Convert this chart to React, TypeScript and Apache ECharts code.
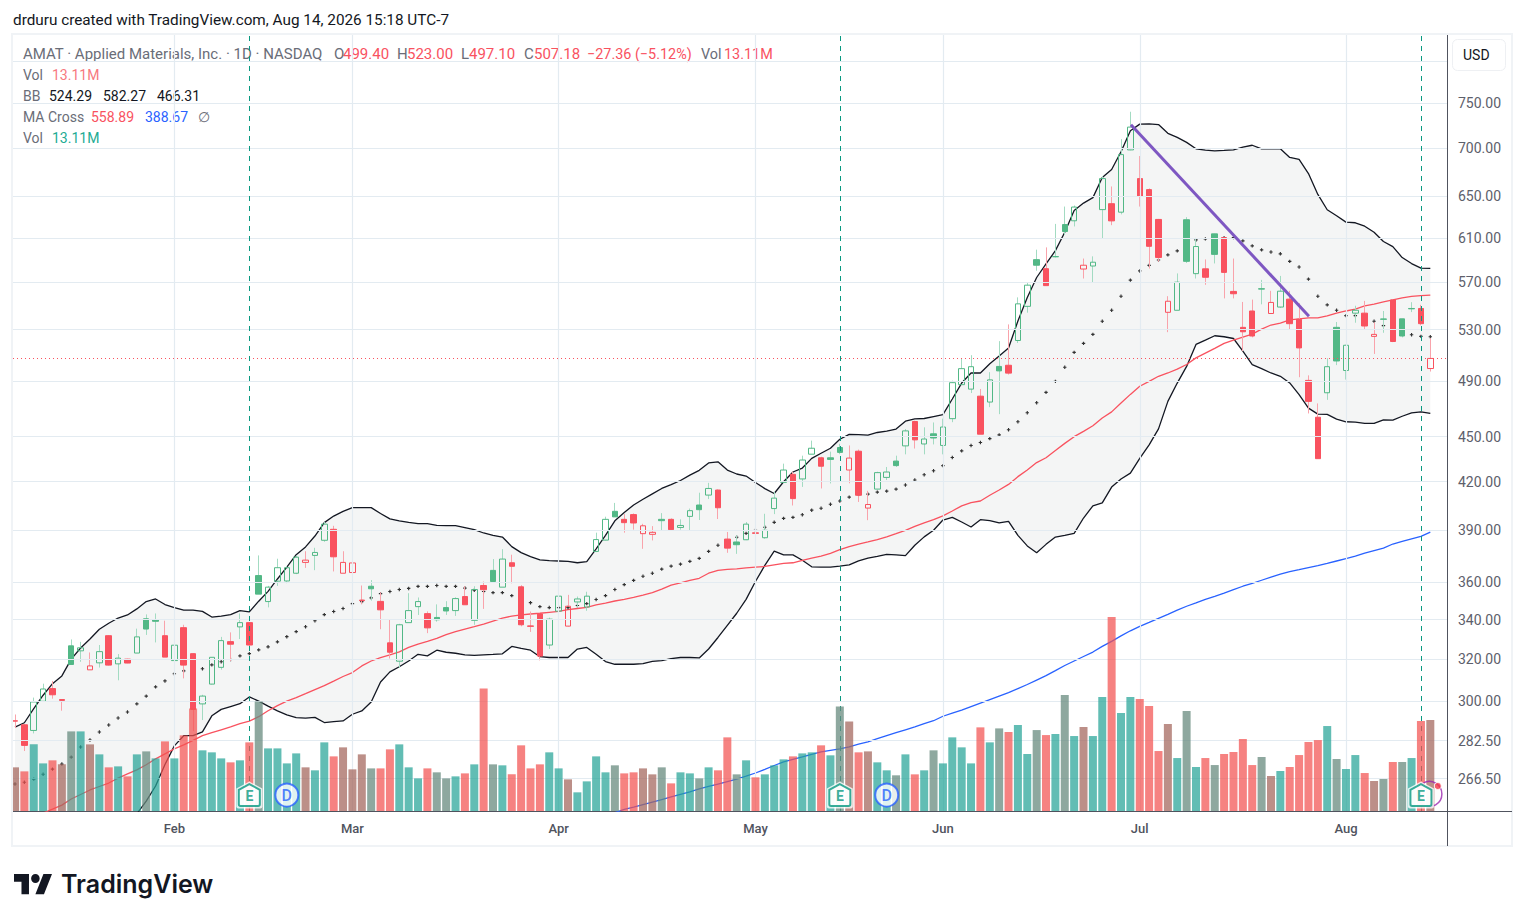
import React, { useEffect, useRef } from "react";
import * as echarts from "echarts";

const opens = [
  291, 289.4, 286.9, 300, 305.9, 300.8, 326.6, 324.1, 314.8, 318.2,
  331.7, 317.7, 320, 323, 340.4, 339.8, 331.7, 319.3, 335.8, 322.7,
  298.8, 308, 316, 328.7, 336.2, 338.4, 363.7, 349.5, 360.6, 360.7,
  365, 371.1, 375.1, 383.9, 390.4, 365, 365.4, 350.3, 357.8, 349.6,
  328.1, 319, 338.4, 346.8, 343.1, 341.1, 346.3, 344.7, 352.2, 339.6,
  358.2, 366.6, 357.3, 370.9, 357.5, 336.7, 342.9, 327, 344.4, 336.6,
  349.3, 346.6, 377.4, 384, 401.3, 396.4, 399.3, 387.8, 387.4, 396.4,
  396.4, 391.5, 398.2, 405.2, 411.4, 414.6, 384.6, 382.9, 384.2, 388.3,
  385.4, 403, 419.5, 424.7, 421.7, 438, 435.6, 435.6, 442.5, 427.5,
  440, 403.3, 415.2, 422.7, 433.4, 443.6, 460.5, 444.9, 451.9, 443.9,
  462.5, 487.2, 483.9, 478.7, 474.4, 501, 501.9, 521.3, 549.3, 590,
  581.9, 592.8, 622.6, 626.2, 581.6, 584.3, 637, 642.8, 634.5, 698,
  668, 656.8, 627.5, 544.3, 546, 627.2, 577.5, 581.8, 613.8, 610.3,
  562, 531.9, 545.4, 564.3, 543.3, 548.7, 555.4, 538.5, 490.4, 463.5,
  481.2, 531.9, 497.9, 543.6, 543.6, 524.6, 538.8, 554.7, 538.9, 547.5,
  547.5, 499.4,
];
const highs = [
  294, 289.6, 301.7, 308.2, 309.5, 300.9, 329.8, 328.6, 323.3, 327,
  332, 322.5, 320.2, 335.3, 342.7, 343.2, 339.4, 329.1, 337.3, 322.9,
  303, 321, 331.1, 333.4, 343.2, 338.5, 375.1, 358, 373.2, 369,
  375, 377.5, 379.5, 394.8, 392.5, 377.5, 371.5, 358.2, 361.2, 354.5,
  340.2, 337.8, 354, 351.7, 344.3, 348, 349.7, 351.8, 357.8, 357.8,
  360.4, 373, 378.7, 375.5, 358.4, 344.2, 343, 341, 357.8, 353.1,
  352.2, 354.8, 388.4, 398, 406.5, 399.6, 400, 393.7, 392.3, 400.2,
  397, 396.4, 403, 412.9, 419.2, 415, 388.8, 386.8, 394.8, 397.5,
  399.8, 413.5, 431.7, 426.4, 437, 447.2, 436.3, 439.7, 445, 443.9,
  441.1, 414.1, 426.4, 429.5, 437, 455.2, 461, 456.4, 459.8, 462.5,
  490.2, 507, 509.7, 484, 496.6, 520.8, 534.3, 556.9, 569.8, 599.1,
  601.2, 623.2, 640, 641, 591, 593, 670.6, 660, 709.6, 740,
  691.5, 658, 628, 557.9, 577.7, 629.7, 610, 590.2, 614, 611,
  591, 553, 555, 572, 562.5, 575.5, 562.5, 552, 494.2, 473.4,
  507.4, 536.3, 518, 549.8, 553.9, 536, 545.4, 555.5, 539, 552.8,
  550.6, 523,
];
const lows = [
  288, 278, 285.6, 299.9, 301.2, 295.7, 317.4, 318.7, 314.8, 315.9,
  316.9, 309.8, 318, 323, 332.1, 328.3, 321, 319, 310.7, 286.6,
  291.5, 307.8, 314.9, 319.1, 330, 325, 353.5, 346.4, 358, 359.5,
  364.5, 368, 366.7, 383, 366, 365, 362.4, 348, 350, 335,
  320.3, 315.7, 338.4, 342.4, 333, 338.9, 342.4, 341.9, 347.8, 337.3,
  345.6, 360.4, 357.3, 359.4, 336.5, 333.6, 319.4, 325, 340.2, 336.4,
  346.4, 344.6, 377, 383.8, 397.9, 388.4, 390.2, 378.9, 383.8, 389.5,
  389.5, 390.2, 390, 396, 408.9, 396.6, 376.6, 376, 384, 381.9,
  384.8, 399.6, 419, 404.9, 416.6, 438, 415.6, 418.8, 438, 418.9,
  407.1, 395.9, 415, 421, 429.5, 437.9, 441.8, 437.9, 444.6, 437.9,
  460, 487, 481, 451.6, 470.7, 465.7, 494.8, 519.3, 544, 580.1,
  567, 592, 612.8, 620.8, 573.2, 569.8, 609.6, 622, 632.4, 697.6,
  640, 582, 588.2, 528, 546, 587, 573.2, 567.7, 586.6, 556,
  556, 512.9, 523.8, 551, 543, 548, 530, 492.8, 466.2, 435,
  476, 502, 491, 535.7, 530, 510.7, 527.5, 520, 523.8, 544.5,
  533.6, 497.1,
];
const closes = [
  291.2, 280.4, 299.7, 305.7, 303, 300.4, 317.4, 325.6, 316.7, 323.7,
  317.1, 320.5, 318.1, 331.1, 335.1, 339.1, 321, 326.9, 317.1, 296.3,
  302.4, 320.9, 329.2, 327.4, 338.4, 327, 353.5, 357.3, 368.1, 368.1,
  374.1, 372.4, 376.8, 393.5, 374.3, 371.1, 370.8, 350, 356.4, 345.1,
  323.4, 337.3, 344.7, 349.5, 335.7, 339.9, 344.5, 351.1, 347.8, 356,
  355.9, 360.4, 373, 368.9, 337.3, 336.5, 321.5, 340.2, 352.4, 347,
  350.9, 352.4, 384.3, 396.4, 397.9, 394.4, 394.2, 392.5, 388.6, 395.6,
  390.2, 392.7, 401.7, 402.3, 415.6, 403.5, 379.3, 381.3, 393.5, 388,
  389.8, 409.5, 427.5, 409.2, 434.1, 442, 430, 434.5, 439.2, 435.4,
  411.3, 405.5, 425.8, 426.2, 430.4, 453.9, 447.7, 448.3, 449, 456.6,
  488.7, 499.3, 500.8, 451.6, 490.8, 497.6, 495.9, 551.4, 567.4, 585,
  567, 592.6, 616, 639.5, 585, 587.7, 668, 626.1, 693, 722.8,
  650.3, 602.2, 592, 553.6, 570, 588.5, 602, 574.3, 594.8, 578.6,
  560, 528.3, 524.9, 564, 552.6, 562.2, 534.9, 515.4, 474.9, 435,
  500.8, 505.2, 517.5, 546, 533, 526.2, 538.5, 520.5, 524.9, 547.2,
  534.9, 507.18,
];
const bbUpper = [
  288.4, 290.3, 296.6, 302.8, 308.2, 311.9, 320, 325.5, 330, 335,
  338.1, 340.8, 342.4, 345.6, 349.5, 350.9, 347.9, 346.3, 345, 345,
  344.3, 341.3, 341.8, 342.6, 344.7, 344, 349.7, 355, 361.8, 368.4,
  375.5, 380, 386.4, 394.4, 398.4, 401.3, 403.6, 403.6, 403.6, 400,
  396.7, 395.5, 394.6, 393.8, 393.8, 392.8, 392.6, 392.6, 391.4, 390.2,
  388.2, 386.8, 385.8, 380.2, 376.7, 374.4, 372.5, 372.1, 371.9, 371.7,
  370.9, 371.5, 378.9, 386.8, 395.5, 400.6, 405.2, 408.8, 412.2, 415.6,
  418, 420.7, 424.2, 427.3, 432.2, 432.9, 427.5, 424.9, 423.6, 419.4,
  415.5, 412.4, 419.9, 426.2, 428.8, 435.2, 438.6, 442, 448.1, 451.5,
  451.3, 451, 452.8, 453.7, 455.2, 460.7, 462.4, 462.6, 464, 465.4,
  476.6, 488.4, 496, 496, 503, 509.1, 515.3, 537.1, 556.7, 574.1,
  586.1, 598.2, 615.3, 636.2, 643.4, 648.8, 669.1, 677.3, 696, 718.8,
  726.1, 726.4, 725.6, 716, 711.6, 706.1, 699.2, 697.8, 697, 697.5,
  698.1, 701, 703, 699.2, 699.2, 699.2, 690, 687.9, 673.2, 652,
  636.9, 631, 624.9, 624.3, 621, 615.3, 606.6, 601.9, 591.9, 586.5,
  582.4, 582.27,
];
const bbLower = [
  236, 236, 237, 238, 238, 239, 240, 241, 242, 244,
  246, 248, 250, 252.5, 257.5, 263.5, 272.3, 280.2, 284.6, 284.6,
  286.3, 293.4, 296.3, 297.6, 298.9, 302, 300.1, 297.8, 295.6, 293.8,
  292.6, 292.4, 292.7, 290.4, 290.8, 291.1, 294.1, 295.6, 299.7, 309,
  313.8, 316.3, 319.1, 322.4, 321.6, 324.4, 323.4, 322.9, 322.1, 321.9,
  322.1, 322.3, 322.6, 326.3, 325.3, 324.4, 321.2, 320.8, 320.8, 320.8,
  325, 325.8, 322.4, 318.8, 317.5, 317.5, 317.5, 317.8, 318.9, 319.3,
  320.3, 320.8, 320.8, 320.6, 325, 330.8, 337, 343.3, 350.7, 360.4,
  369.4, 377.6, 375.4, 375.4, 372.3, 368.6, 368.4, 368.4, 369, 369.7,
  372, 373.6, 374.6, 375.7, 375.4, 375, 381, 385.9, 389.8, 396,
  397.6, 394.8, 391.8, 396.2, 395.6, 394.2, 395.2, 386.8, 380.6, 376.6,
  381.5, 385.8, 386.8, 388, 397.2, 404.7, 406.5, 416.5, 421.7, 425.5,
  435.2, 444.3, 455.3, 474.9, 488.4, 501, 518.2, 521.6, 525.1, 524.3,
  522.9, 512.9, 502.4, 499.3, 496, 493.5, 488.5, 479.8, 470, 465.7,
  465.5, 462.2, 460.3, 460, 459.1, 459.1, 461.7, 461.4, 464.2, 466.6,
  467.3, 466.31,
];
const bbBasis = [
  264.3, 265, 266.3, 268.3, 270.4, 272.5, 275.4, 279.7, 282.7, 286.2,
  289.3, 292.4, 295.1, 298.8, 302.4, 306.7, 309.5, 312.9, 314.3, 315.2,
  315.3, 317.2, 318.7, 319.8, 321.6, 322.7, 324.6, 326.1, 328.6, 331.2,
  333.8, 336.3, 339.4, 342.6, 344.2, 345.8, 348.4, 349.5, 351.5, 353.8,
  354.9, 356, 356.6, 357.7, 357.7, 358.2, 357.7, 357.7, 356.8, 355.6,
  354.9, 354.3, 354.3, 352.7, 350.9, 348.9, 346.8, 346.3, 346.3, 346.3,
  347.4, 348.4, 350.6, 352.7, 356, 358.7, 361, 363.3, 365, 367.3,
  369, 370.1, 371.7, 373.4, 377.4, 381, 382.9, 385.7, 388, 389.8,
  391.6, 394.6, 397, 397.6, 399.2, 402, 403.2, 405.7, 407.7, 410.1,
  411.7, 412, 413.3, 413.9, 415.2, 417.8, 421, 424.4, 427, 430.4,
  435.8, 440.2, 443.9, 445.9, 448.6, 451.1, 454.7, 460.3, 466.7, 473.9,
  481.5, 489.7, 500.4, 511.9, 519, 526.2, 536.9, 546, 557.9, 571.8,
  579.9, 584.9, 589.7, 594.3, 598, 601.9, 608.1, 609.1, 609.8, 610.3,
  610.3, 607.2, 602.6, 598.9, 597, 595.3, 588.5, 583.4, 572.7, 557.9,
  550.5, 546, 541.5, 541.5, 539.3, 536.9, 533.3, 530, 527.5, 525.9,
  524.6, 524.29,
];
const ma50 = [
  247, 249, 251, 252.8, 254.3, 255.9, 258.3, 260.1, 261.9, 263.3,
  264.7, 266.7, 268.4, 270.1, 272.2, 274.7, 276.8, 278.9, 280.6, 282.6,
  284.6, 285.9, 287.2, 288.5, 289.9, 291, 293, 295.7, 298, 300.1,
  301.7, 303.5, 305.4, 307.3, 309.4, 311.6, 313.5, 316.7, 319.1, 320.8,
  322.1, 323.6, 325.8, 327.5, 328.8, 330.3, 332.2, 333.8, 335.1, 336.3,
  337.6, 339.2, 340.8, 341.8, 342.4, 342.9, 343.3, 343.8, 344.3, 345.2,
  345.8, 346.4, 347.7, 348.7, 349.8, 350.7, 351.8, 353, 354.3, 356.2,
  358.4, 359.6, 361, 362.2, 365, 366.6, 367.2, 367.5, 368, 368.4,
  368.8, 369.7, 370.5, 370.9, 372.3, 373.6, 374.7, 376.3, 378.4, 380.2,
  381.7, 382.9, 384.3, 385.9, 387.8, 389.8, 392.2, 394.2, 396.2, 398.5,
  401.5, 404.7, 406.7, 407.7, 411.3, 414.6, 418.2, 423.2, 427.5, 432.4,
  435.6, 440.5, 445.3, 449.9, 453.6, 457.5, 463, 467.3, 473.7, 480,
  486, 489.7, 493.5, 496, 499, 502.5, 507.6, 511.3, 515, 519,
  521.6, 524, 526.4, 530.5, 533.8, 535.4, 538, 538.9, 539.6, 539.6,
  541.3, 543.7, 545.4, 547, 549.6, 551.2, 553, 554.7, 556.4, 557.7,
  558.3, 558.89,
];
const ma200Start = 63;
const ma200 = [
  252, 253, 254.2, 255.1, 256.1, 257.1, 258.1, 259.1, 260.1, 261.1,
  262.3, 263.3, 264.3, 265.3, 266.3, 267.5, 268.8, 270.3, 271.9, 273.4,
  274.5, 275.5, 276.6, 277.6, 278.3, 278.9, 279.8, 280.9, 281.9, 283.3,
  284.6, 285.9, 287.2, 288.5, 289.9, 291.2, 293.2, 294.6, 296, 297.6,
  299.2, 300.8, 302.4, 304, 305.9, 307.8, 309.9, 312, 314.4, 316.9,
  319.1, 321.3, 323.5, 326.3, 328.8, 331.6, 334.2, 336.5, 338.5, 340.6,
  342.7, 344.9, 347, 348.8, 350.7, 352.3, 354, 355.9, 357.8, 359.4,
  361.1, 362.8, 364.5, 365.9, 367, 368.2, 369.3, 370.5, 371.9, 373.3,
  374.7, 376.4, 377.9, 379.3, 381.7, 383.2, 384.7, 386.2, 388.67,
];
const volumes = [
  6.29, 5.71, 9.6, 6.86, 7.3, 6.72, 11.47, 11.47, 9.6, 8.16,
  6.29, 6.43, 4.99, 8.16, 8.59, 7.58, 10.03, 7.58, 10.9, 14.78,
  8.74, 8.45, 7.58, 7.01, 7.3, 9.89, 15.79, 9.02, 9.02, 6.86,
  8.3, 6.29, 5.86, 9.89, 7.87, 9.17, 6, 8.16, 6.14, 6.14,
  8.88, 9.6, 6.29, 4.7, 6.14, 5.57, 4.7, 4.99, 5.42, 6.72,
  17.66, 6.72, 6.58, 5.28, 9.46, 6.14, 6.72, 8.45, 6.14, 4.56,
  2.69, 4.27, 7.87, 5.57, 6.58, 5.42, 5.57, 6.14, 5.28, 6.29,
  3.98, 5.57, 5.42, 4.7, 6.29, 5.86, 10.61, 5.28, 7.3, 4.85,
  5.28, 6.58, 7.44, 7.87, 8.3, 8.45, 9.46, 8.02, 15.07, 12.91,
  8.45, 8.59, 7.01, 5.86, 5.14, 8.16, 5.28, 5.86, 8.74, 6.86,
  10.61, 9.17, 6.86, 12.05, 9.89, 11.9, 11.38, 12.38, 8.21, 11.66,
  10.94, 11.09, 16.7, 10.8, 12.1, 10.8, 16.42, 27.94, 14.11, 16.42,
  16.13, 15.12, 8.64, 12.53, 7.63, 14.4, 6.34, 7.63, 6.62, 8.21,
  8.5, 10.37, 6.62, 7.78, 5.04, 5.76, 6.34, 8.06, 9.94, 10.22,
  12.24, 7.49, 6.05, 8.06, 5.47, 4.32, 4.61, 7.06, 7.06, 7.63,
  12.96, 13.11,
];
// T teal, S salmon, G grey-green, B grey-brown: two overlaid volume indicators
const volumeKinds = (
  "BSTTSBGTBT" + "STSTGTSTSS" + "TTTSTSGTTT" + "TBTTSBBBGS" + "STTTSGGTST" +
  "SG" + "TSSSSTTBTT" + "TTGSSBBGST" + "TGTSSGTSTT" + "TSTTSTGBSB" +
  "TTGTSTGTTT" + "TSTG" + "STTGSTGTBT" + "TSTTSSSBTG" + "TSGSSSSGBT" +
  "SSSSTGTTSB" + "GSGTSB"
).split("");
const monthTicks = [17, 36, 58, 79, 99, 120, 142];
const monthLabels = ["Feb", "Mar", "Apr", "May", "Jun", "Jul", "Aug"];
const priceTicks = [750, 700, 650, 610, 570, 530, 490, 450, 420, 390, 360, 340, 320, 300, 282.5, 266.5];
const extraGridPrices = [800];
const earningsBars = [25, 88, 150];
const dividendBars = [29, 93];
const trendline = [[119.06, 725.4], [138.05, 541.1]];
const lastPrice = 507.18;

const RED = "#f9525f";
const GREEN = "#52b886";
const RED_WICK = "#f9a3ab";
const GREEN_WICK = "#a3dbc2";
const VOLUME_COLORS: Record<string, string> = {
  T: "rgba(38,164,151,0.72)",
  S: "rgba(242,82,80,0.72)",
  G: "rgba(104,139,127,0.75)",
  B: "rgba(166,106,96,0.75)",
};
const VOLUME_TOP = 111.8;
const FONT = "Roboto, sans-serif";

const candleColor = (i: number) => {
  const prev = i > 0 ? closes[i - 1] : closes[i] + 1;
  return closes[i] >= prev ? GREEN : RED;
};

const LOGO_PATH =
  "M14 22H7V11H0V4h14v18zM28 22h-8l7.5-18h8L28 22zM24 8a4 4 0 1 1-8 0 4 4 0 0 1 8 0z";
const HOUSE =
  "path://M12 0L24 6.5V23Q24 25 22 25H2Q0 25 0 23V6.5Z";
const PLUS = "path://M1 0H2V1H3V2H2V3H1V2H0V1H1Z";

const legendRow = (
  y: number,
  parts: [number, string, string][],
  size = 14
) =>
  parts.map(([x, text, fill]) => ({
    type: "text",
    x,
    y,
    silent: true,
    style: {
      text,
      fill,
      font: `${size}px ${FONT}`,
      verticalAlign: "middle",
    },
  }));

export default function App() {
  const ref = useRef<HTMLDivElement>(null);

  useEffect(() => {
    if (!ref.current) return;
    echarts.graphic.registerShape(
      "tvLogo",
      echarts.graphic.extendPath(LOGO_PATH, {})
    );
    const chart = echarts.init(ref.current, undefined, { renderer: "svg" });
    const idx = closes.map((_, i) => i);
    const GREY = "#6a6d78";

    const lineSeries = (name: string, values: number[], color: string, width: number, start = 0) => ({
      name,
      type: "line",
      data: values.map((v, i) => [i + start, v]),
      symbol: "none",
      silent: true,
      clip: true,
      z: 3,
      lineStyle: { color, width },
    });

    const option: any = {
      animation: false,
      backgroundColor: "#ffffff",
      textStyle: { fontFamily: FONT },
      grid: { left: 13, top: 35, width: 1434, height: 776, containLabel: false },
      xAxis: {
        type: "value",
        min: -0.2134,
        max: 152.78,
        splitLine: { show: false },
        axisTick: { show: false },
        axisLine: { show: true, onZero: false, lineStyle: { color: "#50535e", width: 1 } },
        axisLabel: {
          customValues: monthTicks,
          formatter: (v: number) => monthLabels[monthTicks.indexOf(v)] ?? "",
          color: "#50535e",
          fontFamily: FONT,
          fontSize: 13,
          fontWeight: 500,
          margin: 11,
        },
      },
      yAxis: [
        {
          type: "log",
          logBase: 10,
          position: "right",
          min: 253.6,
          max: 832.3,
          splitLine: { show: false },
          minorSplitLine: { show: false },
          axisTick: { show: false },
          axisLine: { show: true, onZero: false, lineStyle: { color: "#50535e", width: 1 } },
          axisLabel: {
            customValues: priceTicks,
            formatter: (v: number) => Number(v).toFixed(2),
            color: "#5d606b",
            fontFamily: FONT,
            fontSize: 14,
            margin: 11,
          },
        },
        { type: "value", min: 0, max: VOLUME_TOP, show: false, splitLine: { show: false } },
      ],
      graphic: [
        {
          type: "rect",
          silent: true,
          z: 100,
          shape: { x: 0, y: 33, width: 12.5, height: 780 },
          style: { fill: "#ffffff" },
        },
        {
          type: "rect",
          silent: true,
          z: 101,
          shape: { x: 12, y: 34, width: 1500, height: 812 },
          style: { fill: "none", stroke: "#f0f3f6", lineWidth: 2 },
        },
        {
          type: "line",
          silent: true,
          z: 102,
          shape: { x1: 1447, y1: 811.5, x2: 1512, y2: 811.5 },
          style: { stroke: "#50535e", lineWidth: 1 },
        },
        {
          type: "line",
          silent: true,
          z: 102,
          shape: { x1: 1447.5, y1: 811, x2: 1447.5, y2: 846 },
          style: { stroke: "#50535e", lineWidth: 1 },
        },
        {
          type: "rect",
          silent: true,
          shape: { x: 1452.5, y: 39.5, width: 53, height: 31, r: 5 },
          style: { fill: "#ffffff", stroke: "#eef0f3", lineWidth: 1 },
        },
        ...legendRow(55, [[1463, "USD", "#131722"]], 14),
        ...legendRow(20, [[13, "drduru created with TradingView.com, Aug 14, 2026 15:18 UTC-7", "#131722"]], 15.3),
        ...legendRow(54, [
          [23, "AMAT · Applied Materials, Inc. · 1D · NASDAQ", GREY],
          [334, "O", GREY],
          [343, "499.40", RED],
          [397, "H", GREY],
          [407, "523.00", RED],
          [461, "L", GREY],
          [469, "497.10", RED],
          [524, "C", GREY],
          [534, "507.18", RED],
        ], 15),
        ...legendRow(54, [
          [587, "−27.36 (−5.12%)", RED],
          [701, "Vol", GREY],
          [724, "13.11M", RED],
        ], 14.4),
        ...legendRow(75, [[23, "Vol", GREY], [52, "13.11M", "#f7797f"]]),
        ...legendRow(96, [
          [23, "BB", GREY],
          [49, "524.29", "#131722"],
          [103, "582.27", "#131722"],
          [157, "466.31", "#131722"],
        ]),
        ...legendRow(117, [
          [23, "MA Cross", GREY],
          [91, "558.89", RED],
          [145, "388.67", "#2962ff"],
          [198, "∅", GREY],
        ]),
        ...legendRow(138, [[23, "Vol", GREY], [52, "13.11M", "#22ab94"]]),
        {
          type: "tvLogo",
          silent: true,
          x: 14,
          y: 869.5,
          scaleX: 1.07,
          scaleY: 1.12,
          style: { fill: "#131722" },
        },
        {
          type: "text",
          silent: true,
          x: 61,
          y: 884,
          style: {
            text: "TradingView",
            fill: "#131722",
            font: `600 25px Inter, ${FONT}`,
            verticalAlign: "middle",
          },
        },
      ],
      series: [
        {
          name: "Grid",
          type: "line",
          data: [[0, 500]],
          symbol: "none",
          silent: true,
          z: 1,
          lineStyle: { opacity: 0 },
          markLine: {
            silent: true,
            symbol: "none",
            animation: false,
            label: { show: false },
            lineStyle: { color: "#e3ebf1", width: 1.2, type: "solid" },
            data: [
              ...[...priceTicks, ...extraGridPrices].map((p) => ({ yAxis: p })),
              ...monthTicks.map((m) => ({ xAxis: m })),
            ],
          },
        },
        {
          name: "Last price",
          type: "line",
          data: [[0, lastPrice]],
          symbol: "none",
          silent: true,
          z: 2,
          lineStyle: { opacity: 0 },
          markLine: {
            silent: true,
            symbol: "none",
            animation: false,
            label: { show: false },
            lineStyle: { color: RED, width: 1, type: [1, 3], opacity: 1 },
            data: [{ yAxis: lastPrice }],
          },
        },
        {
          name: "BB band",
          type: "custom",
          clip: true,
          silent: true,
          z: 2,
          data: [[0, 500]],
          encode: { x: 0, y: 1 },
          renderItem: (_p: any, api: any) => ({
            type: "polygon",
            shape: {
              points: [
                ...idx.map((i) => api.coord([i, bbUpper[i]])),
                ...idx.slice().reverse().map((i) => api.coord([i, bbLower[i]])),
              ],
            },
            style: { fill: "rgba(100,115,115,0.07)" },
          }),
        },
        lineSeries("BB upper", bbUpper, "#131722", 1.3),
        lineSeries("BB lower", bbLower, "#131722", 1.3),
        lineSeries("MA 50", ma50, "#f9525f", 1.3),
        lineSeries("MA 200", ma200, "#2962ff", 1.3, ma200Start),
        {
          name: "BB basis",
          type: "scatter",
          silent: true,
          z: 3,
          symbol: PLUS,
          symbolSize: 3.4,
          itemStyle: { color: "#000000" },
          data: bbBasis.map((v, i) => [i, v]),
        },
        {
          name: "Wicks",
          type: "custom",
          clip: true,
          silent: true,
          z: 4,
          encode: { x: 0, y: [1, 2, 3, 4] },
          data: idx.map((i) => [
            i,
            Math.max(opens[i], closes[i]),
            highs[i],
            Math.min(opens[i], closes[i]),
            lows[i],
          ]),
          renderItem: (_p: any, api: any) => {
            const i = api.value(0);
            const top = api.coord([i, api.value(1)]);
            const hi = api.coord([i, api.value(2)]);
            const bot = api.coord([i, api.value(3)]);
            const lo = api.coord([i, api.value(4)]);
            const x = Math.round(top[0] - 0.5) + 0.5;
            const stroke = candleColor(i) === RED ? RED_WICK : GREEN_WICK;
            const style = { stroke, lineWidth: 1 };
            return {
              type: "group",
              children: [
                { type: "line", shape: { x1: x, y1: top[1], x2: x, y2: hi[1] }, style },
                { type: "line", shape: { x1: x, y1: bot[1], x2: x, y2: lo[1] }, style },
              ],
            };
          },
        },
        {
          name: "AMAT",
          type: "candlestick",
          silent: true,
          z: 4,
          barWidth: 6,
          data: idx.map((i) => {
            const c = candleColor(i);
            const hollow = closes[i] > opens[i];
            const fill = hollow ? "rgba(0,0,0,0)" : c;
            return {
              value: [
                i,
                opens[i],
                closes[i],
                Math.min(opens[i], closes[i]),
                Math.max(opens[i], closes[i]),
              ],
              itemStyle: {
                color: fill,
                color0: fill,
                borderColor: c,
                borderColor0: c,
                borderWidth: 1,
              },
            };
          }),
        },
        {
          name: "Volume",
          type: "bar",
          yAxisIndex: 1,
          silent: true,
          clip: true,
          z: 5,
          barWidth: 8,
          data: volumes.map((v, i) => ({
            value: [i, v],
            itemStyle: { color: VOLUME_COLORS[volumeKinds[i]] },
          })),
        },
        {
          name: "Downtrend",
          type: "line",
          silent: true,
          z: 6,
          symbol: "none",
          lineStyle: { color: "#7e57c2", width: 3 },
          data: trendline,
          markLine: {
            silent: true,
            symbol: "none",
            animation: false,
            label: { show: false },
            lineStyle: { color: "#089981", width: 1, type: [5, 5] },
            data: earningsBars.map((e) => ({ xAxis: e })),
          },
        },
        {
          name: "Next earnings ring",
          type: "scatter",
          yAxisIndex: 1,
          silent: true,
          z: 7,
          symbol: "circle",
          symbolSize: 25,
          itemStyle: { color: "rgba(255,255,255,0)", borderColor: "#9c27b0", borderWidth: 1.5 },
          data: [[150.9, 2.45]],
        },
        {
          name: "Next earnings dot",
          type: "scatter",
          yAxisIndex: 1,
          silent: true,
          z: 9,
          symbol: "circle",
          symbolSize: 7,
          itemStyle: { color: "#f23645", borderColor: "#ffffff", borderWidth: 1 },
          data: [[151.8, 3.6]],
        },
        {
          name: "Earnings halo",
          type: "scatter",
          yAxisIndex: 1,
          silent: true,
          z: 8,
          symbol: HOUSE,
          symbolSize: [26, 27],
          itemStyle: { color: "#ffffff" },
          data: earningsBars.map((e) => [e, 2.3]),
        },
        {
          name: "Earnings",
          type: "scatter",
          yAxisIndex: 1,
          silent: true,
          z: 9,
          symbol: HOUSE,
          symbolSize: [21, 22],
          itemStyle: { color: "#ffffff", borderColor: "#089981", borderWidth: 2 },
          label: {
            show: true,
            formatter: "E",
            position: "inside",
            offset: [0, 1],
            color: "#089981",
            fontFamily: FONT,
            fontWeight: 700,
            fontSize: 14,
          },
          data: earningsBars.map((e) => [e, 2.3]),
        },
        {
          name: "Dividends",
          type: "scatter",
          yAxisIndex: 1,
          silent: true,
          z: 9,
          symbol: "circle",
          symbolSize: 23,
          itemStyle: {
            color: "#ffffff",
            borderColor: "#2962ff",
            borderWidth: 2,
          },
          label: {
            show: true,
            formatter: "D",
            position: "inside",
            color: "#2962ff",
            fontFamily: FONT,
            fontWeight: 500,
            fontSize: 16,
          },
          data: dividendBars.map((d) => [d, 2.3]),
        },
      ],
    };

    chart.setOption(option);
    return () => chart.dispose();
  }, []);

  return (
    <div
      ref={ref}
      style={{ position: "absolute", left: 0, top: 0, width: 1525, height: 921 }}
    />
  );
}
